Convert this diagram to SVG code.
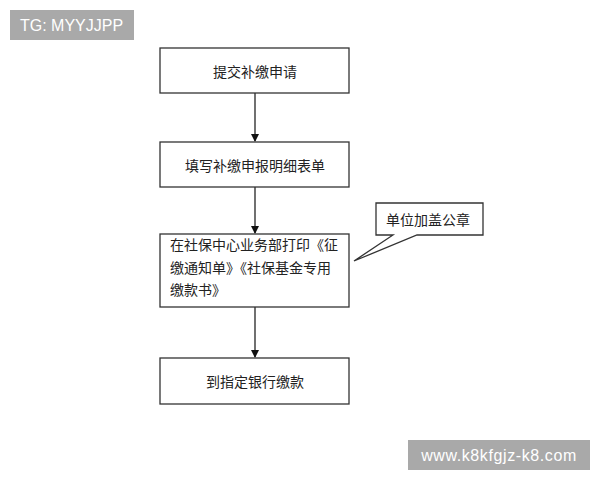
<svg xmlns="http://www.w3.org/2000/svg" width="600" height="480" viewBox="0 0 600 480">
<style>
.box{fill:#fff;stroke:#333;stroke-width:1.3}
.t{font-family:"Noto Sans CJK SC","Liberation Sans",sans-serif;font-size:14px;fill:#222}
.c{text-anchor:middle;dominant-baseline:central}
.edge{stroke:#111;stroke-width:1.2;fill:none}
.wm{font-family:"Liberation Sans",sans-serif;font-size:16px;fill:#fff}
</style>
<defs>
<marker id="ah" markerWidth="8" markerHeight="8" refX="7" refY="4" orient="auto" markerUnits="userSpaceOnUse">
<path d="M0,0 L8,4 L0,8 Z" fill="#111"/>
</marker>
</defs>
<rect width="600" height="480" fill="#fff"/>
<g id="connectors">
<line class="edge" x1="255" y1="93" x2="255" y2="141" marker-end="url(#ah)"/>
<line class="edge" x1="255" y1="187" x2="255" y2="233" marker-end="url(#ah)"/>
<line class="edge" x1="255" y1="307" x2="255" y2="357" marker-end="url(#ah)"/>
</g>
<g id="n1"><rect class="box" x="160" y="48" width="189" height="45"/><text class="t c" x="255" y="71">提交补缴申请</text></g>
<g id="n2"><rect class="box" x="160" y="142" width="189" height="45"/><text class="t c" x="255" y="165">填写补缴申报明细表单</text></g>
<g id="n3"><rect class="box" x="160" y="234" width="189" height="73"/>
<text class="t" x="170" y="250">在社保中心业务部打印《征</text>
<text class="t" x="170" y="273">缴通知单》《社保基金专用</text>
<text class="t" x="170" y="295">缴款书》</text></g>
<g id="n4"><rect class="box" x="160" y="358" width="189" height="46"/><text class="t c" x="255" y="381">到指定银行缴款</text></g>
<g id="callout"><path class="box" d="M376,203 H483 V235 H417 L354,261 L393,235 H376 Z"/><text class="t c" x="428" y="219">单位加盖公章</text></g>
<g id="wm1"><rect x="10" y="10" width="124" height="30" fill="#a9a9a9"/><text class="wm" x="20" y="31">TG: MYYJJPP</text></g>
<g id="wm2"><rect x="408" y="440" width="182" height="30" fill="#a9a9a9"/><text class="wm" x="499" y="461" text-anchor="middle" font-size="17" letter-spacing="0.6">www.k8kfgjz-k8.com</text></g>
</svg>
